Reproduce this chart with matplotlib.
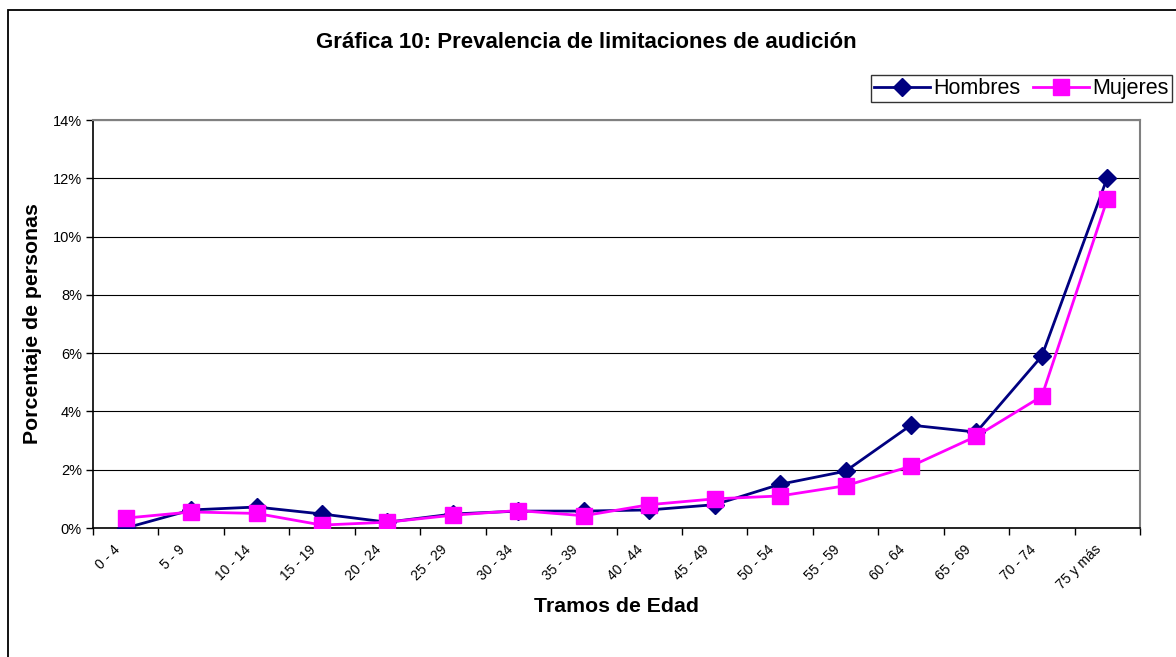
import matplotlib
matplotlib.use("Agg")
import matplotlib.pyplot as plt
from matplotlib.patches import Rectangle
from matplotlib.ticker import FixedLocator, PercentFormatter
from matplotlib.transforms import ScaledTranslation

plt.rcParams['font.family'] = ['Liberation Sans', 'DejaVu Sans']

categories = ["0 - 4", "5 - 9", "10 - 14", "15 - 19", "20 - 24", "25 - 29", "30 - 34",
              "35 - 39", "40 - 44", "45 - 49", "50 - 54", "55 - 59", "60 - 64",
              "65 - 69", "70 - 74", "75 y más"]
hombres = [0.0, 0.62, 0.72, 0.48, 0.20, 0.48, 0.58, 0.58, 0.62, 0.80, 1.50, 1.95,
           3.53, 3.29, 5.90, 12.02]
mujeres = [0.34, 0.55, 0.50, 0.10, 0.20, 0.44, 0.60, 0.42, 0.80, 1.00, 1.10, 1.45,
           2.12, 3.15, 4.52, 11.28]

W, H = 1176, 657
fig = plt.figure(figsize=(W / 100, H / 100), dpi=100)
fig.patch.set_facecolor('white')

# outer chart frame
fig.patches.append(Rectangle((8 / W, -0.05), 1.2, 1 - 10 / H + 0.05,
                             transform=fig.transFigure, fill=False,
                             edgecolor='black', linewidth=1.3))

ax = fig.add_axes([93 / W, 1 - 528 / H, (1140 - 93) / W, (528 - 120) / H])
x = list(range(len(categories)))

ax.plot(x, hombres, color='#000080', linewidth=2, marker='D', markersize=9,
        markerfacecolor='#000080', markeredgecolor='#000080', label='Hombres', zorder=3)
ax.plot(x, mujeres, color='#FF00FF', linewidth=2, marker='s', markersize=11,
        markerfacecolor='#FF00FF', markeredgecolor='#FF00FF', label='Mujeres', zorder=4)

ax.set_xlim(-0.5, len(categories) - 0.5)
ax.set_ylim(0, 14)
ax.set_yticks(range(0, 15, 2))
ax.yaxis.set_major_formatter(PercentFormatter(decimals=0))
ax.yaxis.grid(True, color='black', linewidth=0.8)
ax.set_axisbelow(True)

ax.set_xticks(x)
ax.set_xticklabels(categories, rotation=45, ha='right', va='center',
                   rotation_mode='anchor', fontsize=10)
ax.tick_params(axis='x', which='major', length=0, pad=14)
offset = ScaledTranslation(-8 / 100, 0, fig.dpi_scale_trans)
for lbl in ax.get_xticklabels():
    lbl.set_transform(lbl.get_transform() + offset)
ax.xaxis.set_minor_locator(FixedLocator([i - 0.5 for i in range(len(categories) + 1)]))
ax.tick_params(axis='x', which='minor', length=5, width=1, direction='out', color='black')
ax.tick_params(axis='y', length=5, width=1, direction='out', labelsize=10.5,
               color='black', pad=3)

for s in ['top', 'right']:
    ax.spines[s].set_color('#808080')
    ax.spines[s].set_linewidth(1.5)
ax.spines['left'].set_color('black')
ax.spines['bottom'].set_color('black')
ax.spines['left'].set_linewidth(1.2)
ax.spines['bottom'].set_linewidth(1.2)

ax.set_xlabel('Tramos de Edad', fontsize=15.3, fontweight='bold')
ax.set_ylabel('Porcentaje de personas', fontsize=15.3, fontweight='bold')
ax.xaxis.set_label_coords((617 - 93) / 1047, (528 - 606) / 408)
ax.yaxis.set_label_coords((33 - 93) / 1047, 0.5)
ax.xaxis.label.set_va('center')
ax.yaxis.label.set_va('center')

fig.text(586 / W, 1 - 43 / H, 'Gráfica 10: Prevalencia de limitaciones de audición',
         ha='center', va='center', fontsize=16, fontweight='bold')

leg = fig.legend(loc='upper right', bbox_to_anchor=(1172 / W, 1 - 75 / H), ncol=2,
                 frameon=True, fancybox=False, edgecolor='black', fontsize=15.5,
                 handlelength=2.6, handletextpad=0.15, columnspacing=0.6,
                 borderpad=0.15, borderaxespad=0)
leg.get_frame().set_linewidth(1.0)

fig.savefig('out.png', dpi=100)
